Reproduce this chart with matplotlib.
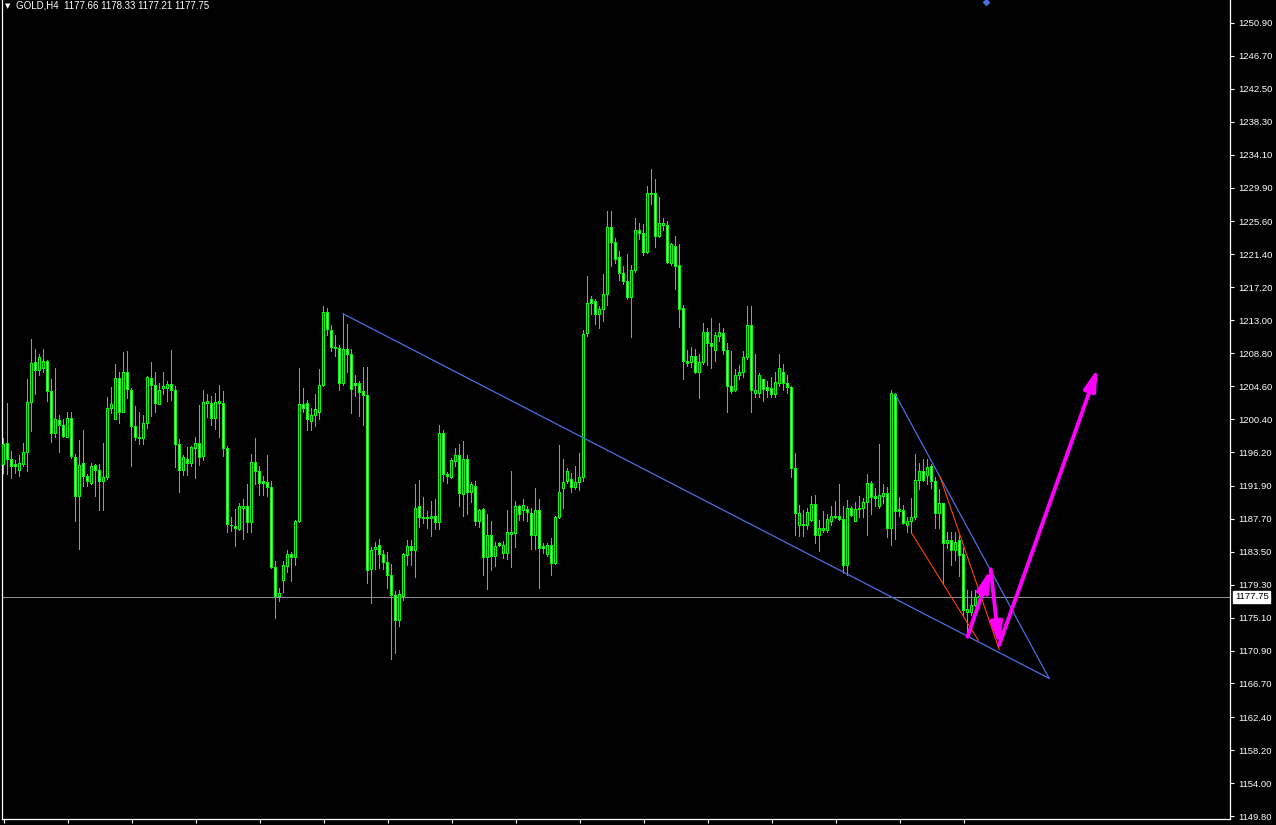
import matplotlib
matplotlib.use("Agg")
import matplotlib.pyplot as plt
import matplotlib.transforms as mtransforms
import numpy as np

# ---------------- data ----------------
opens = [
1194.6, 1197.3, 1195.3, 1194.6, 1193.8, 1194.6, 1196.2, 1202.5, 1207.6, 1206.6,
1206.8, 1207.8, 1203.9, 1198.6, 1200.2, 1199.6, 1198.1, 1200.5, 1195.5, 1190.5,
1194.7, 1193.1, 1192.2, 1194.5, 1193.9, 1192.4, 1192.9, 1201.7, 1200.4, 1205.6,
1201.3, 1206.4, 1204.1, 1199.4, 1198.1, 1197.9, 1199.9, 1205.6, 1204.7, 1202.3,
1204.3, 1204.3, 1204.8, 1204.1, 1197.1, 1193.9, 1195.3, 1194.8, 1196.7, 1197.3,
1195.6, 1202.4, 1202.4, 1200.5, 1202.4, 1202.4, 1196.7, 1186.9, 1186.7, 1186.3,
1189.0, 1189.2, 1187.2, 1194.9, 1193.7, 1192.4, 1192.3, 1191.7, 1181.5, 1177.8,
1179.8, 1181.6, 1183.2, 1182.8, 1187.3, 1202.3, 1202.4, 1200.1, 1200.9, 1201.3,
1204.7, 1214.0, 1211.7, 1209.5, 1209.4, 1205.0, 1209.3, 1208.7, 1204.9, 1204.9,
1203.9, 1203.4, 1181.2, 1183.8, 1184.3, 1183.2, 1182.1, 1180.4, 1177.9, 1174.7,
1177.8, 1183.0, 1184.2, 1183.6, 1189.2, 1187.8, 1187.8, 1187.7, 1188.0, 1187.2,
1198.6, 1193.4, 1192.9, 1195.0, 1195.8, 1190.8, 1195.2, 1191.0, 1191.8, 1187.4,
1188.9, 1182.8, 1185.6, 1182.9, 1184.6, 1183.3, 1183.3, 1185.7, 1185.8, 1189.2,
1188.7, 1188.9, 1188.4, 1185.5, 1188.8, 1184.1, 1183.1, 1184.3, 1182.0, 1187.8,
1191.6, 1192.4, 1192.7, 1191.7, 1192.3, 1193.0, 1211.3, 1215.6, 1215.4, 1213.7,
1214.4, 1216.3, 1224.8, 1222.9, 1221.0, 1219.0, 1217.9, 1215.9, 1219.3, 1224.4,
1224.0, 1221.6, 1229.0, 1229.2, 1223.7, 1225.1, 1225.1, 1220.3, 1222.4, 1220.0,
1214.5, 1207.8, 1207.6, 1208.4, 1206.3, 1207.6, 1211.5, 1210.1, 1209.1, 1210.9,
1211.3, 1209.1, 1204.6, 1204.0, 1206.0, 1206.3, 1208.2, 1212.3, 1203.7, 1203.7,
1205.4, 1204.4, 1204.3, 1203.6, 1205.0, 1206.4, 1205.0, 1204.4, 1194.1, 1186.9,
1187.0, 1186.8, 1187.5, 1189.5, 1185.5, 1186.2, 1186.2, 1187.3, 1187.8, 1188.0,
1187.6, 1181.7, 1189.0, 1187.4, 1188.9, 1189.0, 1189.8, 1192.2, 1190.5, 1189.2,
1190.5, 1190.9, 1186.5, 1203.6, 1188.9, 1188.8, 1186.9, 1187.3, 1187.8, 1192.6,
1193.7, 1193.2, 1194.4, 1192.5, 1188.4, 1189.7, 1184.5, 1184.9, 1183.7, 1184.9,
1183.1, 1175.8, 1175.8, 1176.6, 1177.66]

highs = [
1197.9, 1202.4, 1196.3, 1195.1, 1195.7, 1197.3, 1205.4, 1210.5, 1209.3, 1208.7,
1209.3, 1207.9, 1205.4, 1206.8, 1200.8, 1200.3, 1201.3, 1201.3, 1195.9, 1197.7,
1198.9, 1193.3, 1194.8, 1194.6, 1194.6, 1197.3, 1203.1, 1204.4, 1207.4, 1206.4,
1208.9, 1209.0, 1204.3, 1202.0, 1201.3, 1200.9, 1205.8, 1207.6, 1206.4, 1205.0,
1206.4, 1205.2, 1209.1, 1204.6, 1197.8, 1195.8, 1196.8, 1196.9, 1198.0, 1202.1,
1204.1, 1203.6, 1203.3, 1203.7, 1204.7, 1203.9, 1196.9, 1187.9, 1188.9, 1189.7,
1190.1, 1192.0, 1195.9, 1197.9, 1194.3, 1193.1, 1195.8, 1192.4, 1182.2, 1178.8,
1182.2, 1183.6, 1183.4, 1187.5, 1206.9, 1204.3, 1202.8, 1201.8, 1203.6, 1206.7,
1214.8, 1214.5, 1212.3, 1211.0, 1209.8, 1213.8, 1212.5, 1209.3, 1206.0, 1205.2,
1207.0, 1207.0, 1184.0, 1184.7, 1185.1, 1183.6, 1183.4, 1181.9, 1178.4, 1178.6,
1183.3, 1184.9, 1184.9, 1192.1, 1192.6, 1190.4, 1188.6, 1189.9, 1190.1, 1199.6,
1199.0, 1193.6, 1195.4, 1196.7, 1197.2, 1197.5, 1195.7, 1192.3, 1192.5, 1188.9,
1189.0, 1188.3, 1187.4, 1184.7, 1184.7, 1184.8, 1188.7, 1193.7, 1189.9, 1189.4,
1190.2, 1189.2, 1189.0, 1191.6, 1190.2, 1184.5, 1184.5, 1185.2, 1188.0, 1197.0,
1195.2, 1194.1, 1193.5, 1194.4, 1196.0, 1211.7, 1218.6, 1216.0, 1215.6, 1214.7,
1218.8, 1226.9, 1226.9, 1223.4, 1221.8, 1219.9, 1221.4, 1220.0, 1226.0, 1225.4,
1225.2, 1230.1, 1232.2, 1230.9, 1228.7, 1226.0, 1225.6, 1222.8, 1223.7, 1222.6,
1214.9, 1209.1, 1209.5, 1209.3, 1208.7, 1212.6, 1212.0, 1213.2, 1211.5, 1212.6,
1212.0, 1210.1, 1209.0, 1206.7, 1207.2, 1209.0, 1214.7, 1214.7, 1208.6, 1206.2,
1205.5, 1205.2, 1205.7, 1206.4, 1208.6, 1207.4, 1206.0, 1204.5, 1196.0, 1189.4,
1188.8, 1189.0, 1190.5, 1190.7, 1187.5, 1188.6, 1188.2, 1189.3, 1189.9, 1192.1,
1189.2, 1190.0, 1189.2, 1189.8, 1190.5, 1190.3, 1193.3, 1192.4, 1191.5, 1197.1,
1192.0, 1191.7, 1204.1, 1203.7, 1190.4, 1189.4, 1187.9, 1190.3, 1195.9, 1194.8,
1195.2, 1195.3, 1194.6, 1193.0, 1191.4, 1189.7, 1186.0, 1186.0, 1186.0, 1185.5,
1183.9, 1178.6, 1178.4, 1178.6, 1178.33]

lows = [
1193.5, 1193.3, 1192.8, 1193.5, 1193.1, 1194.3, 1193.7, 1198.8, 1203.5, 1205.9,
1206.3, 1202.7, 1197.4, 1198.0, 1196.1, 1198.1, 1198.0, 1195.4, 1187.4, 1183.8,
1191.8, 1191.8, 1192.1, 1190.5, 1188.7, 1188.7, 1192.7, 1201.1, 1200.3, 1199.8,
1201.2, 1203.0, 1194.4, 1197.7, 1197.2, 1197.1, 1199.2, 1200.7, 1201.3, 1202.2,
1203.5, 1202.6, 1202.8, 1194.2, 1191.1, 1193.2, 1193.2, 1194.4, 1192.8, 1194.5,
1195.1, 1200.6, 1199.6, 1199.1, 1198.0, 1195.6, 1186.0, 1186.1, 1184.1, 1186.2,
1185.1, 1185.9, 1186.0, 1192.1, 1190.7, 1190.6, 1190.5, 1181.4, 1175.0, 1177.1,
1178.3, 1180.9, 1179.7, 1181.7, 1187.2, 1201.3, 1198.9, 1199.0, 1199.4, 1200.3,
1204.6, 1211.1, 1209.0, 1208.4, 1204.1, 1204.7, 1206.4, 1201.1, 1203.3, 1200.7,
1199.6, 1179.4, 1176.9, 1181.2, 1181.3, 1181.2, 1178.8, 1169.8, 1170.5, 1173.9,
1177.3, 1181.7, 1181.7, 1180.2, 1186.6, 1187.1, 1186.5, 1185.4, 1186.3, 1186.3,
1192.4, 1192.2, 1192.8, 1194.3, 1189.2, 1188.0, 1188.3, 1189.8, 1186.9, 1186.6,
1180.5, 1178.7, 1181.1, 1181.6, 1184.1, 1182.6, 1182.5, 1181.5, 1184.0, 1187.5,
1187.5, 1187.3, 1183.8, 1183.8, 1178.8, 1183.3, 1182.9, 1180.5, 1181.9, 1187.7,
1189.0, 1192.2, 1191.0, 1191.4, 1191.3, 1192.4, 1210.9, 1213.7, 1212.4, 1212.0,
1212.9, 1214.9, 1219.9, 1220.3, 1218.1, 1217.6, 1215.6, 1210.8, 1219.1, 1223.3,
1221.3, 1221.5, 1227.7, 1222.3, 1223.6, 1224.4, 1220.3, 1220.0, 1216.9, 1212.1,
1205.4, 1207.1, 1207.0, 1206.2, 1203.0, 1207.4, 1207.2, 1206.8, 1207.7, 1210.3,
1208.7, 1201.3, 1203.7, 1203.9, 1205.4, 1205.7, 1208.0, 1201.3, 1203.1, 1203.2,
1202.6, 1203.1, 1203.2, 1203.2, 1204.5, 1204.1, 1203.7, 1192.9, 1185.6, 1185.4,
1185.4, 1186.3, 1187.4, 1184.6, 1183.5, 1186.0, 1186.0, 1186.9, 1187.7, 1187.5,
1180.7, 1180.5, 1188.0, 1187.3, 1187.8, 1187.8, 1185.5, 1188.2, 1189.2, 1189.0,
1189.7, 1185.3, 1184.3, 1185.0, 1188.0, 1187.0, 1185.9, 1185.8, 1187.6, 1191.4,
1192.4, 1192.0, 1191.5, 1186.5, 1186.5, 1179.4, 1183.9, 1181.8, 1182.4, 1180.3,
1175.2, 1172.7, 1175.4, 1176.5, 1177.21]

closes = [
1197.2, 1195.3, 1194.4, 1194.4, 1194.7, 1196.2, 1202.5, 1207.5, 1206.6, 1208.3,
1207.8, 1203.9, 1198.6, 1200.3, 1199.6, 1198.2, 1200.5, 1195.6, 1190.5, 1194.5,
1193.1, 1192.4, 1194.4, 1193.8, 1192.4, 1193.0, 1201.7, 1202.3, 1205.6, 1201.3,
1206.4, 1204.2, 1199.4, 1198.1, 1197.9, 1199.9, 1205.7, 1204.7, 1202.4, 1204.0,
1204.5, 1204.8, 1204.1, 1197.1, 1193.9, 1195.5, 1194.8, 1196.8, 1197.3, 1195.5,
1202.5, 1202.6, 1200.5, 1202.5, 1202.7, 1196.7, 1187.0, 1186.8, 1186.4, 1189.2,
1189.2, 1187.2, 1194.9, 1193.7, 1192.2, 1192.2, 1191.7, 1181.5, 1177.8, 1178.2,
1181.7, 1183.2, 1182.7, 1187.4, 1202.3, 1201.8, 1200.3, 1200.9, 1201.6, 1204.7,
1214.0, 1211.8, 1209.5, 1209.4, 1205.0, 1209.3, 1208.7, 1204.2, 1204.7, 1203.8,
1203.4, 1181.1, 1183.7, 1184.0, 1183.2, 1182.1, 1180.4, 1177.9, 1174.7, 1178.1,
1183.2, 1184.2, 1183.6, 1189.0, 1187.8, 1187.7, 1187.7, 1188.0, 1187.2, 1198.6,
1193.4, 1193.1, 1195.1, 1195.7, 1190.9, 1195.2, 1191.0, 1192.0, 1187.4, 1188.8,
1182.8, 1185.6, 1182.9, 1184.2, 1184.3, 1184.3, 1186.0, 1186.0, 1189.2, 1188.3,
1189.4, 1188.5, 1185.5, 1188.8, 1183.9, 1183.9, 1184.3, 1182.0, 1187.8, 1191.1,
1192.3, 1193.7, 1191.7, 1192.3, 1193.0, 1211.2, 1215.2, 1215.1, 1213.7, 1214.4,
1216.3, 1224.8, 1222.9, 1220.8, 1218.9, 1217.9, 1215.9, 1219.4, 1224.4, 1224.0,
1221.6, 1229.1, 1229.1, 1223.7, 1225.4, 1225.4, 1220.4, 1222.6, 1219.9, 1214.4,
1207.7, 1207.5, 1208.4, 1206.3, 1207.6, 1211.5, 1210.1, 1209.6, 1211.0, 1211.4,
1209.1, 1204.5, 1203.9, 1205.9, 1206.4, 1208.2, 1212.3, 1204.0, 1204.1, 1206.0,
1204.2, 1204.1, 1203.6, 1205.1, 1206.9, 1205.0, 1204.4, 1194.1, 1188.4, 1188.4,
1186.8, 1188.5, 1189.5, 1185.5, 1186.5, 1186.5, 1187.6, 1188.0, 1188.0, 1187.6,
1181.7, 1189.0, 1188.1, 1188.9, 1189.0, 1189.8, 1192.2, 1190.4, 1190.3, 1190.6,
1190.9, 1186.5, 1203.7, 1188.6, 1188.6, 1187.1, 1187.4, 1187.8, 1192.6, 1193.7,
1192.6, 1194.2, 1192.4, 1188.4, 1189.6, 1184.6, 1184.9, 1183.7, 1184.7, 1183.0,
1176.0, 1176.1, 1176.7, 1177.6, 1177.75]

symbol = "GOLD,H4"
last_ohlc = [1177.66, 1178.33, 1177.21, 1177.75]
price_ticks = [1250.90, 1246.70, 1242.50, 1238.30, 1234.10, 1229.90, 1225.60,
               1221.40, 1217.20, 1213.00, 1208.80, 1204.60, 1200.40, 1196.20,
               1191.90, 1187.70, 1183.50, 1179.30, 1175.10, 1170.90, 1166.70,
               1162.40, 1158.20, 1154.00, 1149.80]
bid_price = 1177.75

# drawn objects (bar index, price)
lower_trend_x = [85.0, 261.4]
lower_trend_y = [1213.8, 1167.35]
upper_trend_x = [222.9, 261.4]
upper_trend_y = [1203.6, 1167.35]
red1_x = [227.1, 243.7]
red1_y = [1185.8, 1172.2]
red2_x = [234.1, 248.9]
red2_y = [1193.1, 1171.05]
path_x = [241.0, 246.8, 248.9, 273.6]
path_y = [1172.66, 1181.25, 1171.6, 1206.9]

# ---------------- figure ----------------
W, H = 1276, 825
AX_W_PX, AX_H_PX = 1228, 819
XMIN = -0.375                       # bar centres on pixel centres, body edges on pixel edges
XMAX = XMIN + AX_W_PX / 4.0         # 4 px per bar
YMIN, YMAX = 1149.42, 1253.83
fig = plt.figure(figsize=(W / 100, H / 100), dpi=100, facecolor="black")
ax = fig.add_axes([2 / W, 6 / H, AX_W_PX / W, AX_H_PX / H])
ax.set_facecolor("black")

n = min(len(opens), len(highs), len(lows), len(closes))
o = np.array(opens[:n]); h = np.array(highs[:n]); l = np.array(lows[:n]); c = np.array(closes[:n])
h = np.maximum(h, np.maximum(o, c)); l = np.minimum(l, np.minimum(o, c))
x = np.arange(n)
py = (YMAX - YMIN) / AX_H_PX     # price per pixel

lime = "#00FF00"
bot = np.minimum(o, c)
top = np.maximum(o, c)
ht = top - bot
# wick: 1 px wide filled column
ax.bar(x, (h - l) + py, bottom=l - 0.5 * py, width=0.25, color=lime, linewidth=0, zorder=2)
# body: 3 px wide lime block
ax.bar(x, ht + py, bottom=bot - 0.5 * py, width=0.75, color=lime, linewidth=0, zorder=3)
# body interior: 1 px column, black for bull, white for bear
bull = c >= o
mask = ht > 1.2 * py
fill = np.where(bull, "black", "white")
ax.bar(x[mask], ht[mask] - py, bottom=bot[mask] + 0.5 * py, width=0.25,
       color=list(fill[mask]), linewidth=0, zorder=4)

# bid line
ax.axhline(bid_price, color="#A8A8B0", linewidth=0.6, zorder=1)

# trend lines
blue = "#4A6FE3"
ax.plot(lower_trend_x, lower_trend_y, color=blue, linewidth=0.9, zorder=5)
ax.plot(upper_trend_x, upper_trend_y, color=blue, linewidth=0.9, zorder=5)
red = "#FF4500"
ax.plot(red1_x, red1_y, color=red, linewidth=0.8, zorder=5)
ax.plot(red2_x, red2_y, color=red, linewidth=0.8, zorder=5)

# magenta arrows
mag = "#FF00FF"
for i in range(len(path_x) - 1):
    ax.annotate("", xy=(path_x[i + 1], path_y[i + 1]), xytext=(path_x[i], path_y[i]),
                arrowprops=dict(arrowstyle="-|>,head_length=0.8,head_width=0.22",
                                color=mag, lw=2.8, mutation_scale=16,
                                shrinkA=0, shrinkB=0),
                zorder=6)

# small marker at top
ax.plot([245.6], [1253.6], marker="D", color=blue, markersize=3, clip_on=False, zorder=6)

# axes limits
ax.set_xlim(XMIN, XMAX)
ax.set_ylim(YMIN, YMAX)

# spines
for s in ["left", "bottom", "right"]:
    ax.spines[s].set_color("white")
    ax.spines[s].set_linewidth(0.9)
ax.spines["top"].set_visible(False)

font = "Liberation Sans"
ax.yaxis.tick_right()
ax.set_yticks(price_ticks)
ax.set_yticklabels([f"{v:.2f}" for v in price_ticks], fontfamily=font)
ax.tick_params(axis="y", direction="out", length=3, width=0.8, colors="white",
               labelsize=6.8, pad=3)
ax.set_xticks(np.arange(0, n, 16))
ax.set_xticklabels([])
ax.tick_params(axis="x", direction="out", length=3, width=0.8, colors="white")

# bid price label
trans = mtransforms.blended_transform_factory(ax.transAxes, ax.transData)
trans = trans + mtransforms.ScaledTranslation(5 / 100, 0, fig.dpi_scale_trans)
ax.text(1.0, bid_price, f"{bid_price:.2f}", transform=trans, fontsize=6.8,
        fontfamily=font, color="black", va="center", ha="left",
        bbox=dict(boxstyle="square,pad=0.18", fc="white", ec="white"),
        zorder=10, clip_on=False)

# title
title = f"{symbol}  " + " ".join(f"{v:.2f}" for v in last_ohlc)
fig.text(5 / W, 1 - 6 / H, "\u25BC", color="white", fontsize=5, va="center", ha="left",
         fontfamily="DejaVu Sans")
fig.text(16 / W, 1 - 6 / H, title, color="white", fontsize=7, va="center",
         ha="left", fontfamily=font)

fig.savefig("out.png", dpi=100, facecolor="black")
